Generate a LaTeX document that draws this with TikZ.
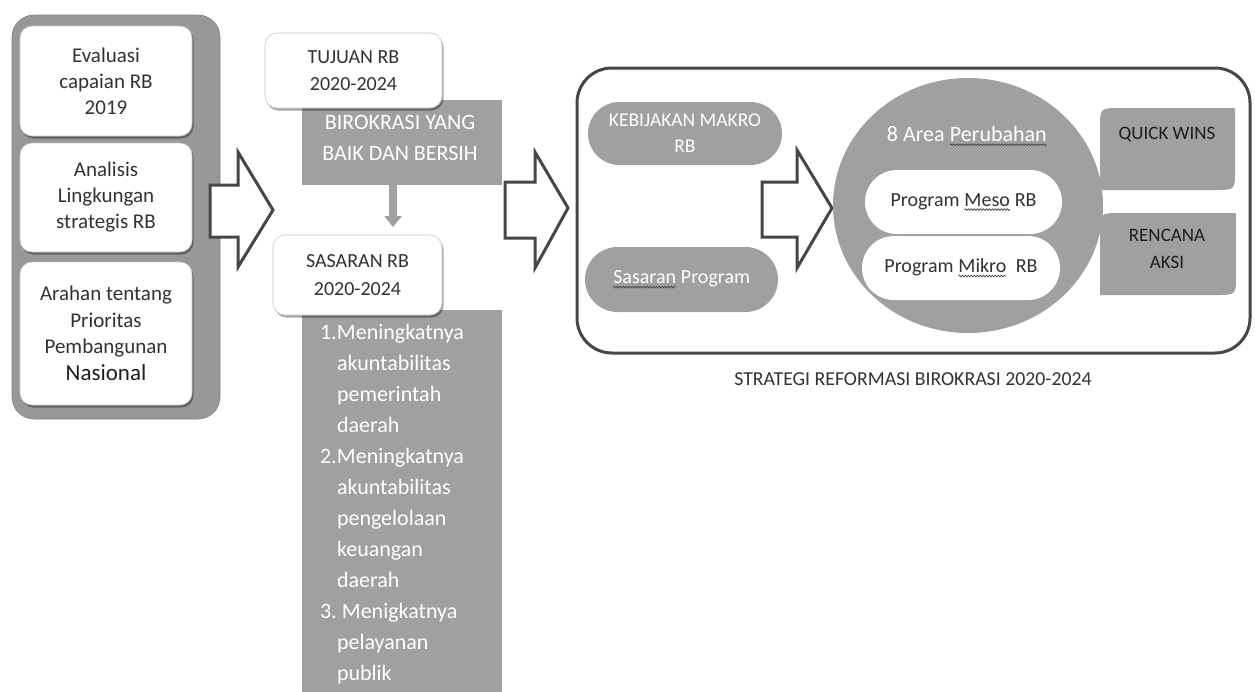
\documentclass[tikz,border=0pt]{standalone}
\usepackage{fontspec}
\setmainfont{Carlito}
\usetikzlibrary{shadows,arrows.meta,shapes.misc,shapes.geometric,decorations.pathmorphing}
\definecolor{fillg}{RGB}{160,160,160}
\definecolor{boxg}{RGB}{152,152,152}
\definecolor{ink}{RGB}{50,50,50}
\definecolor{darkink}{RGB}{30,30,30}
\definecolor{edge}{RGB}{70,70,70}
\newcommand\gwave[1]{\tikz[baseline=(w.base)]{\node[shape=rectangle, inner sep=0pt, outer sep=0pt,
    minimum width=0pt, minimum height=0pt, fill=none, draw=none] (w) {#1};
  \draw[edge, line width=0.7pt, decorate, decoration={snake, amplitude=0.9pt, segment length=3pt}]
  ([yshift=-3.5pt]w.base west) -- ([yshift=-3.5pt]w.base east);}}
\newcommand\fs[2]{\fontsize{#1}{#2}\selectfont}
\begin{document}
\begin{tikzpicture}[x=1pt,y=-1pt,
  every node/.style={inner sep=0pt, outer sep=0pt},
  outerbox/.style={rounded corners=22pt, fill=boxg, draw=boxg!85!black, line width=0.6pt},
  wbox/.style={rounded corners=12pt, fill=white, draw=black!22, line width=0.6pt,
    drop shadow={shadow xshift=1.5pt, shadow yshift=-2.5pt, opacity=0.35, fill=black},
    align=center, text=ink},
  gbox/.style={fill=fillg},
  wtext/.style={text=white, align=center},
  dtext/.style={text=darkink, align=center},
  hollow/.style={draw=edge, line width=3pt, fill=white, line join=miter},
  frame/.style={draw=edge, line width=3pt, rounded corners=35pt},
  gpill/.style={rounded rectangle, fill=fillg, text=white, align=center},
  wpill/.style={rounded rectangle, fill=white, text=ink, align=center},
  downarrow/.style={fillg, line width=8pt, -{Triangle[width=17pt,length=11pt]}}
]
\useasboundingbox (0,0) rectangle (1255,691);

% ---------- left column ----------
\node[outerbox, minimum width=208pt, minimum height=404pt] (left) at (116,217) {};
\node[wbox, minimum width=172pt, minimum height=110pt, font=\fs{21}{26}] (eval) at (106,81)
  {Evaluasi\\capaian RB\\2019};
\node[wbox, minimum width=172pt, minimum height=109pt, font=\fs{21}{26}] (anal) at (106,197.5)
  {Analisis\\Lingkungan\\strategis RB};
\node[wbox, minimum width=172pt, minimum height=143pt, font=\fs{21}{26.5}] (arah) at (106,333.5)
  {Arahan tentang\\Prioritas\\Pembangunan\\{\fs{23}{27.5}\color{darkink}Nasional}};

% ---------- arrow 1 ----------
\draw[hollow] (210,185) -- (238,185) -- (238,152) -- (273,210) -- (238,267) -- (238,237) -- (210,237) -- cycle;

% ---------- middle column ----------
\node[gbox, minimum width=200pt, minimum height=85pt] (biro) at (402,142.5) {};
\node[wtext, font=\fs{22}{31}] (birotext) at (400,138) {BIROKRASI YANG\\BAIK DAN BERSIH};
\node[wbox, minimum width=177pt, minimum height=75pt, font=\fs{20}{27}] (tuj) at (353.5,70.5)
  {TUJUAN RB\\2020-2024};

\node[gbox, minimum width=200pt, minimum height=383pt] (list) at (402,501.5) {};
\node[wbox, minimum width=169pt, minimum height=80pt, font=\fs{20}{28}] (sas) at (357.5,275)
  {SASARAN RB\\2020-2024};
\node[text=white, align=left, anchor=north west, font=\fs{22}{31}] (listtext) at (320,324)
  {\makebox[17pt][l]{1.}Meningkatnya\\
   \hspace*{17pt}akuntabilitas\\
   \hspace*{17pt}pemerintah\\
   \hspace*{17pt}daerah\\
   \makebox[17pt][l]{2.}Meningkatnya\\
   \hspace*{17pt}akuntabilitas\\
   \hspace*{17pt}pengelolaan\\
   \hspace*{17pt}keuangan\\
   \hspace*{17pt}daerah\\
   \makebox[22pt][l]{3.}Menigkatnya\\
   \hspace*{17pt}pelayanan\\
   \hspace*{17pt}publik};

\coordinate (da) at (393,185);
\draw[downarrow] (da) -- ([yshift=8pt]da |- sas.north);

% ---------- arrow 2 ----------
\draw[hollow] (505,182) -- (535,182) -- (535,152) -- (568,208) -- (535,268) -- (535,238) -- (505,238) -- cycle;

% ---------- strategy frame ----------
\node[frame, minimum width=673pt, minimum height=285pt] (frame) at (913.5,210.5) {};
\node[gpill, minimum width=194pt, minimum height=63pt, font=\fs{19.5}{26}] (makro) at (685,133.5)
  {KEBIJAKAN MAKRO\\RB};
\node[gpill, minimum width=193pt, minimum height=65pt, font=\fs{20}{26}] (sprog) at (681.5,279.5)
  {\gwave{Sasaran} Program};

\draw[hollow] (762,182) -- (797,182) -- (797,150) -- (832,208) -- (797,268) -- (797,237) -- (762,237) -- cycle;

\node[ellipse, fill=fillg, minimum width=270pt, minimum height=255pt] (area) at (968,205.5) {};
\node[text=white, font=\fs{22}{26}] (areatext) at (967,136) {8 Area \gwave{Perubahan}};
\node[wpill, minimum width=197pt, minimum height=64pt, font=\fs{20}{26}] (meso) at (963.5,202)
  {Program \gwave{Meso} RB};
\node[wpill, minimum width=198pt, minimum height=64pt, font=\fs{20}{26}] (mikro) at (961,268)
  {Program \gwave{Mikro}\ \ RB};

\fill[fillg] (1100,190) -- (1100,128) .. controls (1100,108) .. (1120,108) -- (1235,108)
  -- (1235,170) .. controls (1235,190) .. (1215,190) -- cycle;
\node[dtext, font=\fs{19}{26}] (qw) at (1167,135) {QUICK WINS};
\fill[fillg] (1100,295) -- (1100,233) .. controls (1100,213) .. (1120,213) -- (1236,213)
  -- (1236,275) .. controls (1236,295) .. (1216,295) -- cycle;
\node[dtext, font=\fs{19}{27}] (ra) at (1167,249) {RENCANA\\AKSI};

\node[text=ink, font=\fs{19.8}{24}] (caption) at (913,379) {STRATEGI REFORMASI BIROKRASI 2020-2024};
\end{tikzpicture}
\end{document}
